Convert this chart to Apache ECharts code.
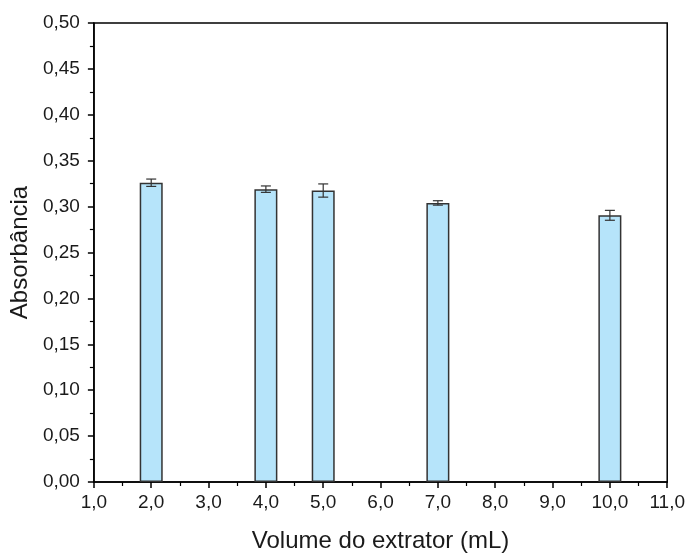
<!DOCTYPE html>
<html>
<head>
<meta charset="utf-8">
<script src="https://cdn.jsdelivr.net/npm/echarts@6/dist/echarts.min.js"></script>
<style>html,body{margin:0;padding:0;background:#fff}#chart{width:688px;height:558px}</style>
</head>
<body>
<div id="chart"></div>
<script>
var volumes = [2.0, 4.0, 5.0, 7.0, 10.0];
var absorb = [0.326, 0.319, 0.3175, 0.304, 0.2905];
var errs = [0.004, 0.0035, 0.0072, 0.0024, 0.0054];

var dom = document.getElementById("chart");
var myChart = echarts.init(dom);

var fmt = function (d) { return function (v) { return v.toFixed(d).replace('.', ','); }; };
var font = 'Liberation Sans, Arial, sans-serif';

var barData = volumes.map(function (x, i) { return [x, absorb[i]]; });
var errData = volumes.map(function (x, i) { return [x, absorb[i] - errs[i], absorb[i] + errs[i]]; });

option = {
    animation: false,
    grid: {
        left: 93, right: 20, top: 23, bottom: 73,
        show: true, borderColor: '#000', borderWidth: 1.5
    },
    xAxis: [{
        type: 'value',
        min: 1, max: 11, interval: 1,
        name: 'Volume do extrator (mL)',
        nameLocation: 'middle',
        nameGap: 47,
        nameTextStyle: {fontFamily: font, fontSize: 24, color: '#1a1a1a'},
        axisLine: {lineStyle: {color: '#000', width: 1.5}},
        axisTick: {inside: false, length: 6, lineStyle: {color: '#000', width: 1.5}},
        minorTick: {show: true, splitNumber: 2, length: 4, lineStyle: {color: '#000', width: 1.2}},
        axisLabel: {formatter: fmt(1), fontFamily: font, fontSize: 19, color: '#1a1a1a', margin: 11},
        splitLine: {show: false}
    }],
    yAxis: [{
        type: 'value',
        min: 0, max: 0.5, interval: 0.05,
        name: 'Absorbância',
        nameLocation: 'middle',
        nameGap: 53,
        nameTextStyle: {fontFamily: font, fontSize: 24, color: '#1a1a1a'},
        axisLine: {show: true, lineStyle: {color: '#000', width: 1.5}},
        axisTick: {show: true, length: 6, lineStyle: {color: '#000', width: 1.5}},
        minorTick: {show: true, splitNumber: 2, length: 4, lineStyle: {color: '#000', width: 1.2}},
        axisLabel: {formatter: fmt(2), fontFamily: font, fontSize: 19, color: '#1a1a1a', margin: 14},
        splitLine: {show: false}
    }],
    series: [{
        type: 'bar',
        data: barData,
        barWidth: 23,
        itemStyle: {color: '#B6E4FA', borderColor: '#333', borderWidth: 1.5}
    }, {
        type: 'custom',
        data: errData,
        z: 5,
        renderItem: function (params, api) {
            var x = api.value(0);
            var lo = api.coord([x, api.value(1)]);
            var hi = api.coord([x, api.value(2)]);
            var hw = 5;
            var st = {stroke: '#333', lineWidth: 1.2};
            return {
                type: 'group',
                children: [
                    {type: 'line', shape: {x1: lo[0], y1: lo[1], x2: hi[0], y2: hi[1]}, style: st},
                    {type: 'line', shape: {x1: lo[0] - hw, y1: lo[1], x2: lo[0] + hw, y2: lo[1]}, style: st},
                    {type: 'line', shape: {x1: hi[0] - hw, y1: hi[1], x2: hi[0] + hw, y2: hi[1]}, style: st}
                ]
            };
        }
    }]
};
if (option && typeof option === "object") {
    myChart.setOption(option, true);
}
</script>
</body>
</html>
